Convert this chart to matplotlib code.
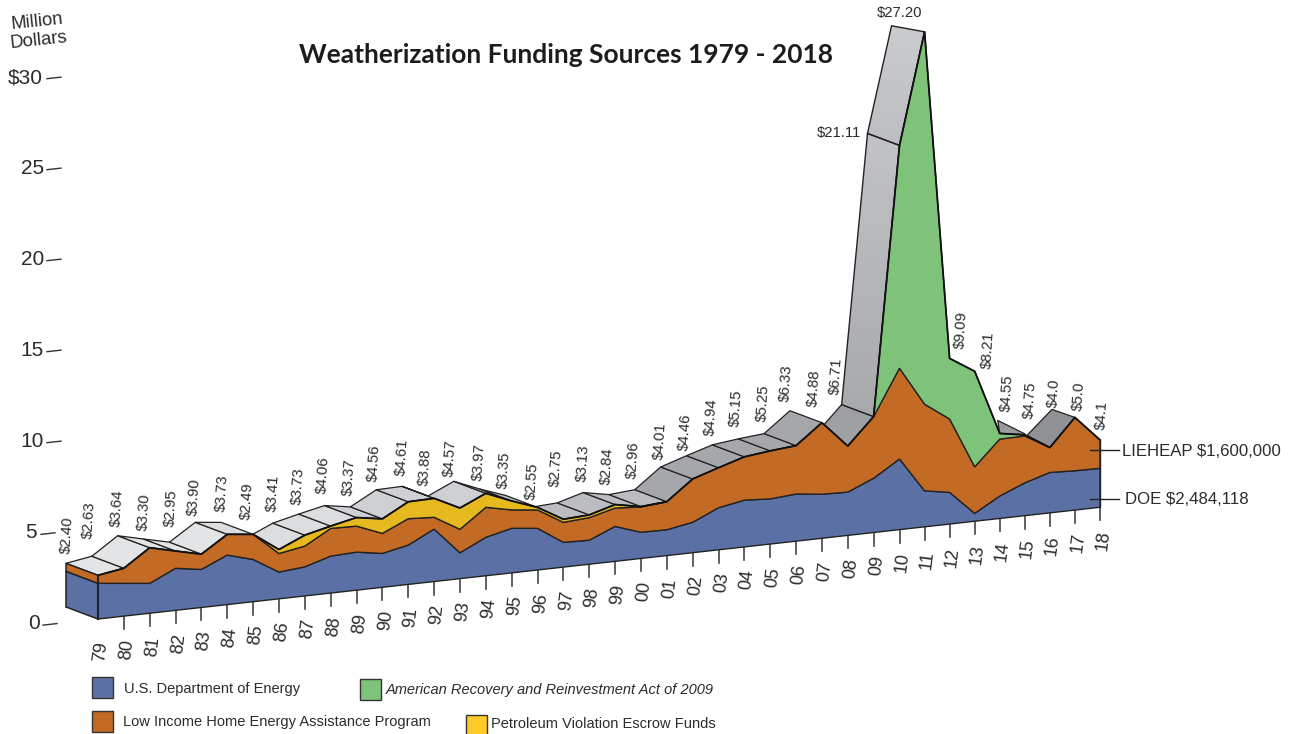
#!/usr/bin/env python3
"""Weatherization funding sources 1979-2018, fake 3D stacked area."""
import numpy as np
import matplotlib
matplotlib.use('Agg')
import matplotlib.pyplot as plt
from matplotlib.colors import LinearSegmentedColormap
from matplotlib.patches import Polygon, Rectangle
from matplotlib.transforms import Affine2D

plt.rcParams['font.family'] = ['Liberation Sans', 'DejaVu Sans']

years = ['79', '80', '81', '82', '83', '84', '85', '86', '87', '88', '89', '90', '91', '92',
         '93', '94', '95', '96', '97', '98', '99', '00', '01', '02', '03', '04', '05', '06',
         '07', '08', '09', '10', '11', '12', '13', '14', '15', '16', '17', '18']
total_labels = ['$2.40', '$2.63', '$3.64', '$3.30', '$2.95', '$3.90', '$3.73', '$2.49', '$3.41',
                '$3.73', '$4.06', '$3.37', '$4.56', '$4.61', '$3.88', '$4.57', '$3.97', '$3.35',
                '$2.55', '$2.75', '$3.13', '$2.84', '$2.96', '$4.01', '$4.46', '$4.94', '$5.15',
                '$5.25', '$6.33', '$4.88', '$6.71', '$21.11', '$27.20', '$9.09', '$8.21', '$4.55',
                '$4.75', '$4.0', '$5.0', '$4.1']

doe = [1.96, 1.80, 1.64, 2.31, 2.09, 2.72, 2.32, 1.47, 1.60, 2.03, 2.09, 1.86, 2.16, 2.88,
       1.42, 2.11, 2.45, 2.29, 1.36, 1.32, 1.92, 1.44, 1.42, 1.67, 2.31, 2.57, 2.48, 2.59,
       2.42, 2.38, 2.98, 3.88, 1.98, 1.74, 0.43, 1.23, 1.80, 2.22, 2.16, 2.14]
liheap = [0.44, 0.83, 1.96, 0.95, 0.84, 1.14, 1.38, 1.02, 1.14, 1.52, 1.43, 1.10, 1.45, 0.65,
          1.29, 1.65, 1.01, 1.01, 1.10, 1.24, 1.01, 1.39, 1.54, 2.38, 2.20, 2.38, 2.64, 2.66,
          3.93, 2.53, 3.39, 4.99, 4.76, 4.03, 2.56, 3.13, 2.58, 1.37, 2.93, 1.56]
petroleum = [0, 0, 0, 0, 0, 0, 0, 0.22, 0.60, 0.13, 0.47, 0.80, 0.93, 1.04,
             1.17, 0.77, 0.49, 0.14, 0.17, 0.15, 0.19, 0.02, 0, 0, 0, 0, 0, 0,
             0, 0, 0, 0, 0, 0, 0, 0, 0, 0, 0, 0]
arra = [0, 0, 0, 0, 0, 0, 0, 0, 0, 0, 0, 0, 0, 0,
        0, 0, 0, 0, 0, 0, 0, 0, 0, 0, 0, 0, 0, 0,
        0, 0, 0, 12.24, 20.46, 3.33, 5.25, 0.31, 0.06, 0, 0, 0]

y_ticks = [0, 5, 10, 15, 20, 25, 30]
y_tick_labels = ['0', '5', '10', '15', '20', '25', '$30']

# where the rotated dollar labels were hand placed in the picture
label_x = [65.7, 88, 115.7, 143, 170, 193, 220.7, 246, 271.7, 296.7, 321.7, 348, 373, 400.7,
           424, 448.7, 477.7, 502.7, 530.7, 555, 581.7, 606, 631.7, 659, 684, 710, 735, 761.7,
           785, 812.7, 835, 839, 900, 959.3, 987, 1006, 1029, 1052, 1077, 1100]
label_y = [535, 520, 508, 512, 508, 497, 493, 501, 493, 486, 475, 477, 463, 457,
           467, 458, 462, 470, 481, 468, 463, 466, 460, 441, 432, 417, 408, 403,
           383, 388, 376, 133, 13, 330, 350, 393, 400, 392.7, 396, 415]

BLUE = '#5B71A6'
ORANGE = '#C36A25'
GREEN = '#7FC37A'
YELLOW = '#E6B91E'
EDGE = '#222222'
TEXT = '#2b2b2b'

# top face greys, one per segment between years
face_greys = ['#E3E4E6'] * 5 + ['#DCDDDF'] * 5 + ['#CFD0D3'] * 6 + ['#BCBDC0'] * 6 \
    + ['#A6A7AB'] * 7 + ['#9FA0A4', '#BCBDC1', '#C6C7CA'] + ['#9A9B9F'] * 4 + ['#909195'] * 3

# slab depth in pixels, the drawing is not quite regular near the right end
depth_x = np.full(len(years), -32.0)
depth_y = np.full(len(years), -12.0)
depth_x[[32, 35, 36, 37, 38]] = [-33, -2, 0, -23, -23]
depth_y[[32, 35, 36, 37, 38]] = [-6, -13, -1, -12, -8]

# picture is laid out in pixel coordinates, x along the floor, y = dollars
slots = np.interp(np.arange(len(years)), [0, 31, 39], [98, 899.5, 1100])
floor = Affine2D.from_values(1, -0.1115, 0, -18.2, 0, 629.93)

fig = plt.figure(figsize=(12.92, 7.34), dpi=100)
ax = fig.add_axes([0, 0, 1, 1])
ax.axis('off')
front = floor + ax.transData

layers = np.cumsum([doe, liheap, petroleum, arra], axis=0)
top_doe, top_li, top_pet, top = layers
colors = [BLUE, ORANGE, YELLOW, GREEN]


def pix(x, v):
    return floor.transform(np.column_stack([x, v]))


pts = pix(slots, top)
ridge = pts + np.column_stack([depth_x, depth_y])

# top faces, the ones falling steeply to the right face away and stay hidden
for i in range(len(years) - 1):
    dx = pts[i + 1, 0] - pts[i, 0]
    dy = pts[i + 1, 1] - pts[i, 1]
    if dy > 0.375 * dx:
        continue
    corners = np.vstack([pts[i], pts[i + 1], ridge[i + 1], ridge[i]])
    if i in (30, 31):
        # the spike has a soft gradient
        cmap = LinearSegmentedColormap.from_list('g', ['#A8A9AD', '#C2C3C6'] if i == 30 else ['#BDBEC1', '#CBCCCF'])
        x0, x1 = corners[:, 0].min(), corners[:, 0].max()
        y0, y1 = corners[:, 1].min(), corners[:, 1].max()
        im = ax.imshow(np.linspace(1, 0, 64).reshape(-1, 1), cmap=cmap, extent=(x0, x1, y1, y0),
                       aspect='auto', zorder=2)
        clip = Polygon(corners, closed=True, transform=ax.transData, facecolor='none', edgecolor=EDGE,
                       lw=1.0, zorder=2.1)
        ax.add_patch(clip)
        im.set_clip_path(clip)
    else:
        ax.fill(corners[:, 0], corners[:, 1], facecolor=face_greys[i], edgecolor=EDGE, lw=0.9,
                joinstyle='round', zorder=2)

ax.set_xlim(0, 1292)
ax.set_ylim(734, 0)

# left end of the slab
lefts = [0, top_doe[0], top_li[0]]
for j, c in enumerate([BLUE, ORANGE]):
    p = pix([slots[0]] * 4, [lefts[j], lefts[j + 1], lefts[j + 1], lefts[j]])
    p[2:] += [depth_x[0], depth_y[0]]
    ax.fill(p[:, 0], p[:, 1], facecolor=c, edgecolor=EDGE, lw=1.1, zorder=3)

# front of the slab
lower = np.zeros(len(years))
for upper, c in zip(layers, colors):
    show = upper > lower + 1e-6
    idx = np.where(show | np.r_[show[1:], False] | np.r_[False, show[:-1]])[0]
    xs = slots[idx]
    ax.fill(np.r_[xs, xs[::-1]], np.r_[upper[idx], lower[idx][::-1]], facecolor=c,
            edgecolor=EDGE, lw=1.0, zorder=4, transform=front)
    lower = upper
ax.plot(slots, top, color='#111111', lw=1.3, zorder=5, transform=front)
ax.plot([slots[0], slots[0]], [0, top[0]], color=EDGE, lw=1.5, zorder=5, transform=front)
ax.plot([slots[-1], slots[-1]], [0, top[-1]], color=EDGE, lw=1.0, zorder=5, transform=front)

# year ticks and labels
base = pix(slots, np.zeros(len(years)))
for i, yr in enumerate(years):
    if i > 0:
        ax.plot([base[i, 0]] * 2, [base[i, 1], base[i, 1] + 13], color='#444444', lw=1.2, zorder=3)
    ax.text(base[i, 0] + 3, base[i, 1] + 33, yr, rotation=83, ha='center', va='center',
            fontsize=13, color=TEXT)

# dollar labels
for i, lab in enumerate(total_labels):
    rot = 0 if lab in ('$21.11', '$27.20') else 86
    ax.text(label_x[i] + (0 if rot == 0 else 1.5), label_y[i], lab, rotation=rot, ha='center',
            va='center', fontsize=10.7, color=TEXT)

# value axis
tick_left = [43, 41, 47, 47, 47, 47, 47]
label_right = [40, 37, 44, 44, 44, 44, 43]
for k, (v, lab) in enumerate(zip(y_ticks, y_tick_labels)):
    ax.plot([tick_left[k], tick_left[k] + 14], [v, v], color='#333333', lw=1.0, transform=front)
    p = pix([46], [v])[0]
    ax.text(label_right[k], p[1] - 1, lab, ha='right', va='center', fontsize=15, color=TEXT)
ax.text(37, 22, 'Million', ha='center', va='center', fontsize=13.3, color=TEXT, rotation=6)
ax.text(39, 41, 'Dollars', ha='center', va='center', fontsize=13.3, color=TEXT, rotation=6)

ax.text(566, 55, 'Weatherization Funding Sources 1979 - 2018', ha='center', va='center',
        fontsize=19, fontweight='bold', family='Lato', color='#1c1c1c')

# callouts
ax.plot([1090, 1119], [450, 450], color='#222222', lw=1.0, zorder=6)
ax.plot([1090, 1119], [499, 499], color='#222222', lw=1.0, zorder=6)
ax.text(1122, 451, 'LIEHEAP $1,600,000', va='center', fontsize=12.1, color=TEXT)
ax.text(1125, 499, 'DOE $2,484,118', va='center', fontsize=12.1, color=TEXT)

# legend
for (x, y, c) in [(92, 677, BLUE), (92, 711, ORANGE), (360, 679, GREEN), (466, 715, '#FFCB2A')]:
    ax.add_patch(Rectangle((x, y), 21, 21, facecolor=c, edgecolor='#333333', lw=1.0))
ax.text(124, 689, 'U.S. Department of Energy', va='center', fontsize=10.55, color=TEXT)
ax.text(123, 722, 'Low Income Home Energy Assistance Program', va='center', fontsize=10.55, color=TEXT)
ax.text(386, 690, 'American Recovery and Reinvestment Act of 2009', va='center', fontsize=10.55,
        style='italic', color=TEXT)
ax.text(491, 724, 'Petroleum Violation Escrow Funds', va='center', fontsize=10.55, color=TEXT)

fig.savefig('out.png', dpi=100)
